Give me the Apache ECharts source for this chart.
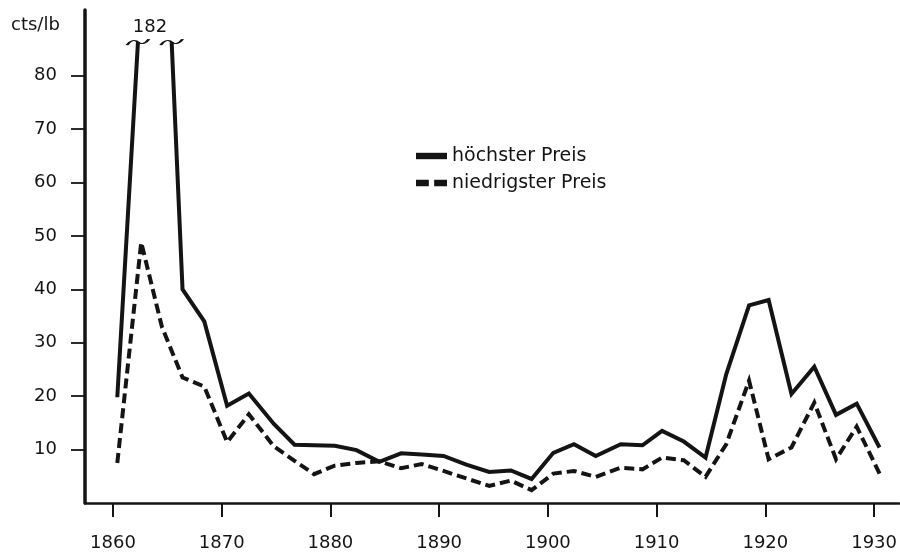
<!DOCTYPE html>
<html>
<head>
<meta charset="utf-8">
<title>Preis cts/lb</title>
<script src="https://cdn.jsdelivr.net/npm/echarts@6/dist/echarts.min.js"></script>
<style>
  html, body { margin: 0; padding: 0; background: #fff; }
  #chart { width: 900px; height: 553px; }
</style>
</head>
<body>
<div id="chart"></div>
<script>
// Jahre (Lage der Knickpunkte)
var jahre = [1860.4, 1862.6, 1864.5, 1866.4, 1868.4, 1870.5, 1872.5, 1874.8, 1876.7, 1878.5,
             1880.4, 1882.4, 1884.5, 1886.5, 1888.4, 1890.4, 1892.5, 1894.6, 1896.6, 1898.5,
             1900.5, 1902.4, 1904.4, 1906.7, 1908.7, 1910.5, 1912.5, 1914.5, 1916.4, 1918.5,
             1920.3, 1922.4, 1924.5, 1926.5, 1928.4, 1930.5];

// höchster Preis, cts/lb (null = oberhalb des Achsenbruchs)
var hoechst = [19.8, null, null, 40, 34, 18.2, 20.5, 14.8, 10.9, 10.8,
               10.7, 9.9, 7.7, 9.3, 9.1, 8.8, 7.2, 5.8, 6.1, 4.5,
               9.4, 11.0, 8.8, 11.0, 10.8, 13.5, 11.5, 8.5, 24.1, 37.0,
               38.0, 20.4, 25.5, 16.5, 18.6, 10.4];

// niedrigster Preis, cts/lb
var niedrigst = [7.5, 48.8, 33, 23.5, 21.8, 11.4, 16.6, 10.6, 7.9, 5.4,
                 7.0, 7.5, 7.8, 6.5, 7.3, 6.0, 4.6, 3.2, 4.2, 2.4,
                 5.5, 6.0, 4.9, 6.6, 6.3, 8.5, 8.0, 4.9, 11.0, 22.9,
                 8.2, 10.4, 18.8, 8.2, 14.3, 5.5];

// Achsenbruch: Spitzenwert und die Stellen, an denen die Linie abgeschnitten ist
var spitze = 182;
var spitzeJahr = 1863.4;
var bruchWert = 86.3;
var bruchLinks = [1862.3, bruchWert];
var bruchRechts = [1865.4, bruchWert];

var xTicks = [1860, 1870, 1880, 1890, 1900, 1910, 1920, 1930];
var yTicks = [10, 20, 30, 40, 50, 60, 70, 80];

var schwarz = '#141414';
var schrift = 'DejaVu Sans, sans-serif';

/**
 * Reihe mit Lücke am Achsenbruch aufbauen
 */
function hochDaten() {
    var d = [];
    for (var i = 0; i < jahre.length; i++) {
        if (hoechst[i] != null) d.push([jahre[i], hoechst[i]]);
    }
    // nach dem ersten Punkt: Anstieg bis zum Bruch, Lücke, Abstieg vom Bruch
    d.splice(1, 0, bruchLinks, [spitzeJahr, '-'], bruchRechts);
    return d;
}

var niedrigDaten = jahre.map(function (j, i) { return [j, niedrigst[i]]; });

// kleine Wellenlinie als Bruchzeichen
var welle = 'path://M0,5 Q5,-1 10,2.5 T20,0';
// Legendensymbole: Balken bzw. zwei Striche
var iconVoll = 'path://M0,0h29v6h-29z';
var iconStrich = 'path://M0,0h12v6h-12z M17,0h12v6h-12z';

var chart = echarts.init(document.getElementById('chart'), null, { renderer: 'canvas' });

chart.setOption({
    backgroundColor: '#fff',
    animation: false,
    textStyle: { fontFamily: schrift, color: schwarz },
    title: {
        text: 'cts/lb',
        left: 6,
        top: 11,
        textStyle: { fontFamily: schrift, fontSize: 18, fontWeight: 'normal', color: schwarz }
    },
    legend: {
        orient: 'vertical',
        left: 411,
        top: 141,
        itemWidth: 31,
        itemHeight: 14,
        itemGap: 7,
        textStyle: { fontFamily: schrift, fontSize: 19, color: schwarz, lineHeight: 20 },
        itemStyle: { color: schwarz },
        data: [
            { name: 'höchster Preis', icon: iconVoll },
            { name: 'niedrigster Preis', icon: iconStrich }
        ]
    },
    grid: { left: 85, right: 0, top: 10, bottom: 50, containLabel: false },
    xAxis: {
        type: 'value',
        min: 1857.43,
        max: 1932.3,
        splitLine: { show: false },
        axisLine: { show: true, lineStyle: { color: schwarz, width: 2.5 } },
        axisTick: {
            show: true, length: 14, customValues: xTicks,
            lineStyle: { color: schwarz, width: 2 }
        },
        axisLabel: {
            customValues: xTicks, margin: 31,
            fontFamily: schrift, fontSize: 18, color: schwarz,
            formatter: function (v) { return String(v); }
        }
    },
    yAxis: {
        type: 'value',
        min: 0,
        max: 92.3,
        splitLine: { show: false },
        axisLine: { show: true, lineStyle: { color: schwarz, width: 3.5 } },
        axisTick: {
            show: true, length: 14, customValues: yTicks,
            lineStyle: { color: schwarz, width: 1.8 }
        },
        axisLabel: {
            customValues: yTicks, margin: 28,
            fontFamily: schrift, fontSize: 18, color: schwarz
        }
    },
    series: [
        {
            name: 'höchster Preis',
            type: 'line',
            data: hochDaten(),
            symbol: 'none',
            connectNulls: false,
            lineStyle: { color: schwarz, width: 4, join: 'miter' },
            itemStyle: { color: schwarz },
            markPoint: {
                silent: true,
                data: [
                    { coord: bruchLinks, symbol: welle, symbolSize: [22, 6] },
                    { coord: bruchRechts, symbol: welle, symbolSize: [22, 6] },
                    {
                        coord: [spitzeJahr, bruchWert], symbol: 'circle', symbolSize: 0,
                        label: {
                            show: true, position: 'top', distance: 6,
                            formatter: String(spitze),
                            fontFamily: schrift, fontSize: 18, color: schwarz
                        }
                    }
                ],
                itemStyle: { color: 'rgba(0,0,0,0)', borderColor: schwarz, borderWidth: 1.6 },
                label: { show: false }
            }
        },
        {
            name: 'niedrigster Preis',
            type: 'line',
            data: niedrigDaten,
            symbol: 'none',
            lineStyle: { color: schwarz, width: 4, type: [10, 5], join: 'miter' },
            itemStyle: { color: schwarz }
        }
    ]
});
</script>
</body>
</html>
